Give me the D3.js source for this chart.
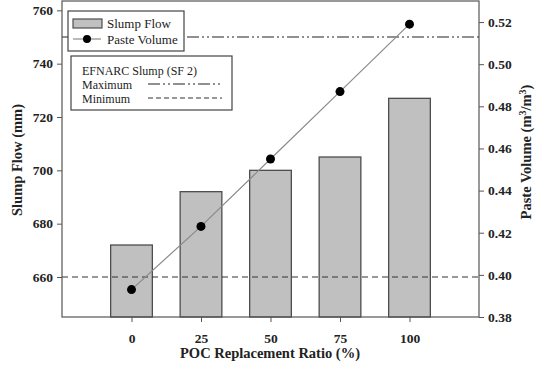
<!DOCTYPE html>
<html lang="en">
  <head>
    <meta charset="UTF-8" />
    <title>Slump Flow vs POC</title>
    <script src="https://cdn.jsdelivr.net/npm/d3@7"></script>
    <style>
      body { margin: 0; background: #fff; }
      svg { display: block; }
      svg text { font-family: "Liberation Serif", "Times New Roman", serif !important; }
    </style>
  </head>
  <body>
    <svg width="539" height="368"></svg>
    <script>
      // data
      const ratios = [0, 25, 50, 75, 100];
      const slumpFlow = [672, 692, 700, 705, 727];
      const pasteVolume = [0.393, 0.423, 0.455, 0.487, 0.519];
      const sfMax = 750;
      const sfMin = 660;
      const leftTicks = [660, 680, 700, 720, 740, 760];
      const rightTicks = [0.38, 0.40, 0.42, 0.44, 0.46, 0.48, 0.50, 0.52];

      const svg = d3.select("svg");
      const m = { left: 62, right: 479, top: 1, bottom: 317 };

      const x = d3.scaleLinear().domain([-25, 125]).range([m.left, m.right]);
      const yL = d3.scaleLinear().domain([645, 763.5]).range([m.bottom, m.top]);
      const yR = d3.scaleLinear().domain([0.38, 0.53]).range([m.bottom, m.top]);
      const barW = x(15) - x(0);

      // bars
      svg.selectAll("rect.bar").data(ratios).enter().append("rect")
        .attr("class", "bar")
        .attr("x", d => x(d) - barW / 2)
        .attr("width", barW)
        .attr("y", (d, i) => yL(slumpFlow[i]))
        .attr("height", (d, i) => m.bottom - yL(slumpFlow[i]))
        .attr("fill", "#c0c0c0")
        .attr("stroke", "#4d4d4d")
        .attr("stroke-width", 1.3);

      // EFNARC limits
      const maxDash = "12,3,2,3,2,3";
      svg.append("line")
        .attr("x1", m.left).attr("x2", m.right)
        .attr("y1", yL(sfMax)).attr("y2", yL(sfMax))
        .attr("stroke", "#222").attr("stroke-width", 1.2)
        .attr("stroke-dasharray", maxDash);
      svg.append("line")
        .attr("x1", m.left).attr("x2", m.right)
        .attr("y1", yL(sfMin)).attr("y2", yL(sfMin))
        .attr("stroke", "#333").attr("stroke-width", 1.2)
        .attr("stroke-dasharray", "6,4");

      // paste volume line
      const line = d3.line().x((d, i) => x(ratios[i])).y(d => yR(d));
      svg.append("path").datum(pasteVolume)
        .attr("d", line)
        .attr("fill", "none")
        .attr("stroke", "#8a8a8a")
        .attr("stroke-width", 1.2);
      svg.selectAll("circle.pt").data(pasteVolume).enter().append("circle")
        .attr("class", "pt")
        .attr("cx", (d, i) => x(ratios[i]))
        .attr("cy", d => yR(d))
        .attr("r", 4.5)
        .attr("fill", "#000");

      // frame
      svg.append("rect")
        .attr("x", m.left).attr("y", m.top)
        .attr("width", m.right - m.left).attr("height", m.bottom - m.top)
        .attr("fill", "none").attr("stroke", "#555").attr("stroke-width", 1.2);

      // axes
      const styleAxis = g => {
        g.select(".domain").remove();
        g.selectAll(".tick line").attr("stroke", "#555");
        g.selectAll("text")
          .attr("font-weight", "bold")
          .attr("font-size", 13.5)
          .attr("fill", "#222");
      };
      svg.append("g").attr("transform", `translate(${m.left},0)`)
        .call(d3.axisLeft(yL).tickValues(leftTicks).tickSize(5).tickPadding(4))
        .call(styleAxis);
      svg.append("g").attr("transform", `translate(${m.right},0)`)
        .call(d3.axisRight(yR).tickValues(rightTicks).tickSize(5).tickPadding(4)
          .tickFormat(d3.format(".2f")))
        .call(styleAxis);
      svg.append("g").attr("transform", `translate(0,${m.bottom})`)
        .call(d3.axisBottom(x).tickValues(ratios).tickSize(5).tickPadding(11))
        .call(styleAxis);

      // axis titles
      svg.append("text")
        .attr("transform", "translate(22,160) rotate(-90)")
        .attr("text-anchor", "middle")
        .attr("font-weight", "bold").attr("font-size", 14.5).attr("fill", "#222")
        .text("Slump Flow (mm)");
      const rt = svg.append("text")
        .attr("transform", "translate(531,152) rotate(-90)")
        .attr("text-anchor", "middle")
        .attr("font-weight", "bold").attr("font-size", 14.5).attr("fill", "#222");
      rt.append("tspan").text("Paste Volume (m");
      rt.append("tspan").attr("dy", -5).attr("font-size", 10).text("3");
      rt.append("tspan").attr("dy", 5).text("/m");
      rt.append("tspan").attr("dy", -5).attr("font-size", 10).text("3");
      rt.append("tspan").attr("dy", 5).text(")");
      svg.append("text")
        .attr("x", 270).attr("y", 358)
        .attr("text-anchor", "middle")
        .attr("font-weight", "bold").attr("font-size", 14.5).attr("fill", "#222")
        .text("POC Replacement Ratio (%)");

      // legend 1
      const lg = svg.append("g");
      lg.append("rect").attr("x", 68).attr("y", 11).attr("width", 116).attr("height", 40)
        .attr("fill", "#fff").attr("stroke", "#444").attr("stroke-width", 1.2);
      lg.append("rect").attr("x", 73).attr("y", 19).attr("width", 29).attr("height", 9)
        .attr("fill", "#c0c0c0").attr("stroke", "#4d4d4d").attr("stroke-width", 1.2);
      lg.append("line").attr("x1", 73).attr("x2", 101).attr("y1", 39).attr("y2", 39)
        .attr("stroke", "#8a8a8a").attr("stroke-width", 1.2);
      lg.append("circle").attr("cx", 87).attr("cy", 39).attr("r", 4).attr("fill", "#000");
      lg.append("text").attr("x", 107).attr("y", 28).attr("font-size", 13).attr("fill", "#222").text("Slump Flow");
      lg.append("text").attr("x", 107).attr("y", 44).attr("font-size", 13).attr("fill", "#222").text("Paste Volume");

      // legend 2
      const lg2 = svg.append("g");
      lg2.append("rect").attr("x", 71).attr("y", 56).attr("width", 161).attr("height", 54)
        .attr("fill", "#fff").attr("stroke", "#444").attr("stroke-width", 1.2);
      lg2.append("text").attr("x", 82).attr("y", 75).attr("font-size", 12).attr("fill", "#222").text("EFNARC Slump (SF 2)");
      lg2.append("text").attr("x", 82).attr("y", 89).attr("font-size", 12).attr("fill", "#222").text("Maximum");
      lg2.append("text").attr("x", 82).attr("y", 103).attr("font-size", 12).attr("fill", "#222").text("Minimum");
      lg2.append("line").attr("x1", 148).attr("x2", 222).attr("y1", 84).attr("y2", 84)
        .attr("stroke", "#222").attr("stroke-width", 1.2).attr("stroke-dasharray", maxDash);
      lg2.append("line").attr("x1", 148).attr("x2", 222).attr("y1", 98).attr("y2", 98)
        .attr("stroke", "#333").attr("stroke-width", 1.2).attr("stroke-dasharray", "5,3");
    </script>
  </body>
</html>
